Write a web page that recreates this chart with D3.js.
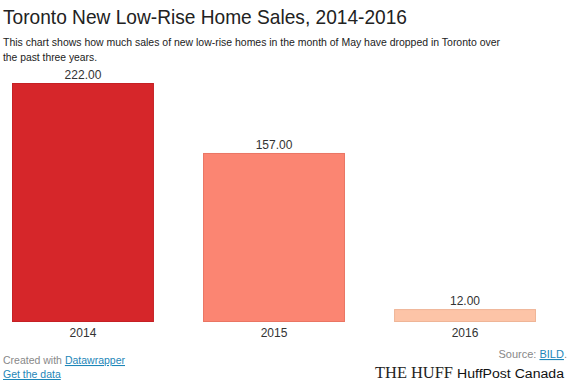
<!DOCTYPE html>
<html>
<head>
<meta charset="utf-8">
<script src="https://cdn.jsdelivr.net/npm/d3@7"></script>
<style>
body { margin: 0; background: #fff; font-family: Arial, "Liberation Sans", sans-serif; }
</style>
</head>
<body>
<script>
var years = ["2014", "2015", "2016"]
var sales = [222, 157, 12]
var bar_colors = ["#d6262a", "#fb8572", "#fdc4a7"]
var bar_strokes = ["#c52024", "#ea7563", "#efb597"]

var width = 570, height = 380
var svg = d3.select('body').append('svg').attr('width', width).attr('height', height)

// header
svg.append('text').attr('x', 3).attr('y', 24)
	.attr('font-size', 21).attr('fill', '#222')
	.attr('textLength', 404).attr('lengthAdjust', 'spacingAndGlyphs')
	.text('Toronto New Low-Rise Home Sales, 2014-2016')
svg.append('text').attr('x', 3).attr('y', 46)
	.attr('font-size', 11.5).attr('fill', '#222')
	.attr('textLength', 497).attr('lengthAdjust', 'spacingAndGlyphs')
	.text('This chart shows how much sales of new low-rise homes in the month of May have dropped in Toronto over')
svg.append('text').attr('x', 3).attr('y', 61)
	.attr('font-size', 11.5).attr('fill', '#222')
	.attr('textLength', 94).attr('lengthAdjust', 'spacingAndGlyphs')
	.text('the past three years.')

var x = d3.scaleBand().domain(years).range([12, 536]).paddingInner(0.257).paddingOuter(0)
var y = d3.scaleLinear().domain([0, 222]).range([322, 83])

var data = years.map((d, i) => ({year: d, val: sales[i], fill: bar_colors[i], stroke: bar_strokes[i]}))

var g = svg.append('g')
g.selectAll('.bar').data(data).enter().append('rect')
	.attr('class', 'bar')
	.attr('x', d => x(d.year) + 0.5)
	.attr('y', d => y(d.val) + 0.5)
	.attr('width', x.bandwidth() - 1)
	.attr('height', d => y(0) - y(d.val) - 1)
	.attr('fill', d => d.fill)
	.attr('stroke', d => d.stroke)

g.selectAll('.val').data(data).enter().append('text')
	.attr('class', 'val')
	.attr('x', d => x(d.year) + x.bandwidth() / 2)
	.attr('y', d => y(d.val) - 4)
	.attr('text-anchor', 'middle').attr('font-size', 12).attr('fill', '#333')
	.text(d => d3.format('.2f')(d.val))

g.selectAll('.cat').data(data).enter().append('text')
	.attr('class', 'cat')
	.attr('x', d => x(d.year) + x.bandwidth() / 2)
	.attr('y', 337)
	.attr('text-anchor', 'middle').attr('font-size', 12).attr('fill', '#333')
	.text(d => d.year)

// footer
var ft = svg.append('text').attr('x', 3).attr('y', 364).attr('font-size', 10.5).attr('fill', '#888')
ft.append('tspan').text('Created with ')
ft.append('tspan').attr('fill', '#1d86b8').attr('text-decoration', 'underline').text('Datawrapper')
svg.append('text').attr('x', 3).attr('y', 378).attr('font-size', 10.5)
	.attr('fill', '#1d86b8').attr('text-decoration', 'underline').text('Get the data')

var src = svg.append('text').attr('x', 567).attr('y', 358).attr('text-anchor', 'end').attr('font-size', 11).attr('fill', '#888')
src.append('tspan').text('Source: ')
src.append('tspan').attr('fill', '#1d86b8').attr('text-decoration', 'underline').text('BILD')
src.append('tspan').text('.')

// logo, partly covered by the HuffPost Canada label
svg.append('text').attr('x', 375).attr('y', 378)
	.attr('font-family', '"Liberation Serif", "DejaVu Serif", serif').attr('font-size', 16).attr('fill', '#222')
	.attr('textLength', 78).attr('lengthAdjust', 'spacingAndGlyphs')
	.text('THE HUFF')
svg.append('text').attr('x', 457).attr('y', 378).attr('font-size', 12).attr('fill', '#111')
	.attr('textLength', 107).attr('lengthAdjust', 'spacingAndGlyphs')
	.text('HuffPost Canada')
</script>
</body>
</html>
